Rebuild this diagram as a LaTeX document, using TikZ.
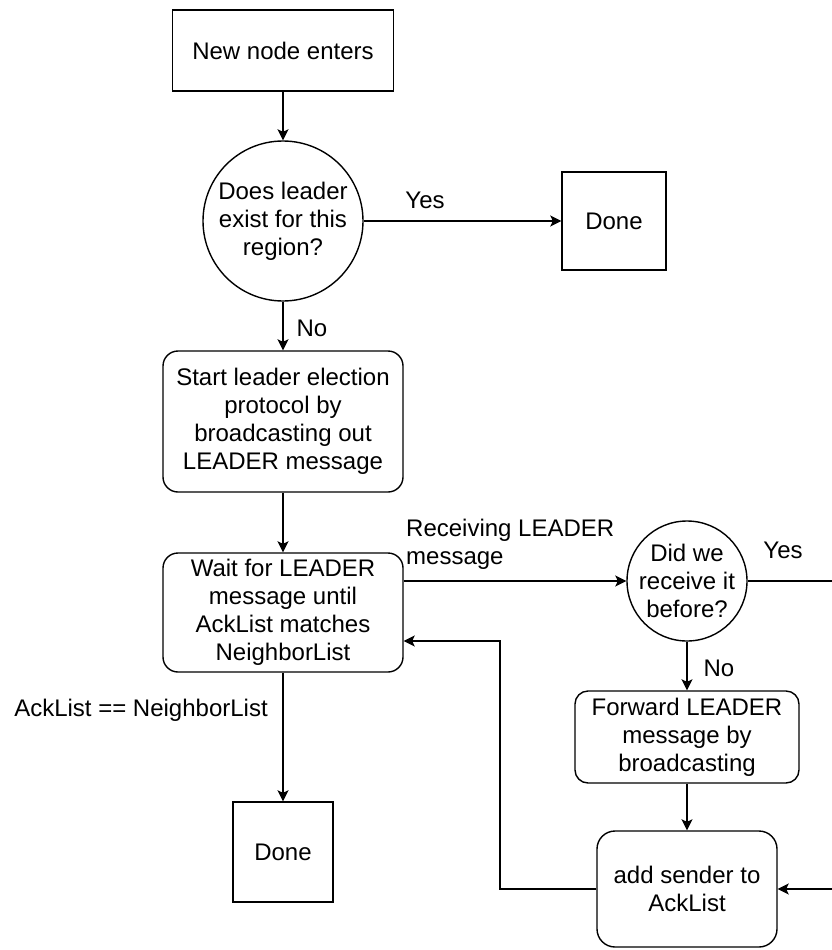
\documentclass[tikz,border=0pt]{standalone}
\usepackage{fontspec}
\setmainfont{Liberation Sans}
\usetikzlibrary{arrows.meta,positioning}

\tikzset{
  every node/.style={font=\fontsize{24}{28}\selectfont, text=black},
  flow/.style={line width=1.4pt, -{Stealth[length=11pt,width=11pt,inset=2.5pt]}},
  termbox/.style={draw, line width=1.4pt, rectangle, inner sep=0pt, align=center},
  procbox/.style={draw, line width=1.4pt, rectangle, rounded corners=15pt, inner sep=0pt, align=center},
  decision/.style={draw, line width=1.4pt, circle, inner sep=-5pt, align=center},
  tag/.style={inner sep=0pt, align=left}
}

\begin{document}
\begin{tikzpicture}[x=1pt, y=-1pt]
  \useasboundingbox (0,0) rectangle (832,950);

  % main column
  \node[termbox, minimum width=221pt, minimum height=81pt] (enter) at (283,50.5) {New node enters};
  \node[decision, minimum size=160pt] (exists) at (283,221) {Does leader\\exist for this\\region?};
  \node[termbox, minimum width=104pt, minimum height=98pt] (done1) at (614,221) {Done};
  \node[procbox, minimum width=240pt, minimum height=141pt] (elect) at (283,421.5)
       {Start leader election\\protocol by\\broadcasting out\\LEADER message};
  \node[procbox, minimum width=240pt, minimum height=119pt] (wait) at (283,612.5)
       {Wait for LEADER\\message until\\AckList matches\\NeighborList};
  \node[termbox, minimum width=100pt, minimum height=100pt] (done2) at (283,852) {Done};

  % receiving branch
  \node[decision, minimum size=120pt] (seen) at (687,581) {Did we\\receive it\\before?};
  \node[procbox, rounded corners=13pt, minimum width=224pt, minimum height=92pt] (fwd) at (687,737)
       {Forward LEADER\\message by\\broadcasting};
  \node[procbox, rounded corners=18pt, minimum width=180pt, minimum height=116pt] (add) at (687,889)
       {add sender to\\AckList};

  % routing points (the right-hand return runs just past the page edge)
  \coordinate (ret) at (500,641);
  \coordinate (edge) at (845,581);

  % connectors
  \draw[flow] (enter) -- (exists);
  \draw[flow] (exists) -- (done1);
  \draw[flow] (exists) -- (elect);
  \draw[flow] (elect) -- (wait);
  \draw[flow] (wait.east |- seen.west) -- (seen.west);
  \draw[flow] (wait) -- (done2);
  \draw[flow] (seen) -- (fwd);
  \draw[flow] (fwd) -- (add);
  \draw[flow] (add.west) -| (ret) -- (wait.east |- ret);
  \draw[flow] (seen.east) -- (edge) |- (add.east);

  % connector labels
  \node[tag] (lyes1) at (425,200) {Yes};
  \node[tag] (lno1) at (312,328) {No};
  \node[tag, anchor=west] (lrecv) at (406,544) {Receiving LEADER\\message};
  \node[tag] (lyes2) at (783,550) {Yes};
  \node[tag] (lno2) at (719,668) {No};
  \node[tag] (lack) at (141,710) {AckList == NeighborList};
\end{tikzpicture}
\end{document}
